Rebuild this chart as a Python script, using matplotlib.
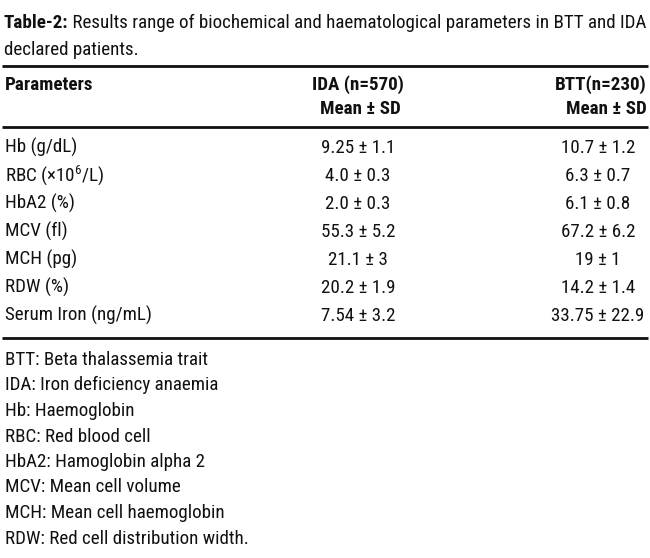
import matplotlib
matplotlib.use("Agg")
import matplotlib.pyplot as plt
from matplotlib import font_manager

# table content
title_bold = "Table-2:"
title_line1 = " Results range of biochemical and haematological parameters in BTT and IDA"
title_line2 = "declared patients."
col_heads = ["Parameters", "IDA (n=570)", "BTT(n=230)"]
sub_head = "Mean \u00b1 SD"
parameters = ["Hb (g/dL)", "RBC (\u00d7$10^{6}$/L)", "HbA2 (%)", "MCV (fl)",
              "MCH (pg)", "RDW (%)", "Serum Iron (ng/mL)"]
ida_mean = ["9.25", "4.0", "2.0", "55.3", "21.1", "20.2", "7.54"]
ida_sd = ["1.1", "0.3", "0.3", "5.2", "3", "1.9", "3.2"]
btt_mean = ["10.7", "6.3", "6.1", "67.2", "19", "14.2", "33.75"]
btt_sd = ["1.2", "0.7", "0.8", "6.2", "1", "1.4", "22.9"]
footnotes = ["BTT: Beta thalassemia trait", "IDA: Iron deficiency anaemia",
             "Hb: Haemoglobin", "RBC: Red blood cell", "HbA2: Hamoglobin alpha 2",
             "MCV: Mean cell volume", "MCH: Mean cell haemoglobin",
             "RDW: Red cell distribution width."]

# pick a condensed sans if there is one
installed = {f.name for f in font_manager.fontManager.ttflist}
font = "DejaVu Sans"
for name in ["Liberation Sans Narrow", "Roboto Condensed", "Open Sans Condensed", "Liberation Sans"]:
    if name in installed:
        font = name
        break
plt.rcParams["font.family"] = [font, "DejaVu Sans"]
plt.rcParams["mathtext.fontset"] = "custom"
plt.rcParams["mathtext.rm"] = font
plt.rcParams["mathtext.it"] = font
plt.rcParams["mathtext.bf"] = font + ":bold"

fs = 13.7
ink = "#111111"

fig = plt.figure(figsize=(6.5, 5.58), dpi=100)
ax = fig.add_axes([0, 0, 1, 1])
ax.set_xlim(0, 650)
ax.set_ylim(558, 0)
ax.axis("off")

# title, bold label followed by plain text
t = ax.text(4, 28, title_bold, fontsize=fs, fontweight="bold", va="baseline", color=ink)
fig.canvas.draw()
w = t.get_window_extent(fig.canvas.get_renderer()).width
ax.text(4 + w, 28, title_line1, fontsize=fs, va="baseline", color=ink)
ax.text(4, 55, title_line2, fontsize=fs, va="baseline", color=ink)

# rules
for y in [66, 127, 338]:
    ax.plot([2, 648], [y, y], color=ink, lw=2.0, solid_capstyle="butt")

ida_x = 358
btt_x = 598
ax.text(5, 90, col_heads[0], fontsize=fs, fontweight="bold", va="baseline", color=ink)
ax.text(ida_x, 90, col_heads[1], fontsize=fs, fontweight="bold", va="baseline", ha="center", color=ink)
ax.text(647, 90, col_heads[2], fontsize=fs, fontweight="bold", va="baseline", ha="right", color=ink)
ax.text(ida_x + 2, 114, sub_head, fontsize=fs, fontweight="bold", va="baseline", ha="center", color=ink)
ax.text(647, 114, sub_head, fontsize=fs, fontweight="bold", va="baseline", ha="right", color=ink)

row_step = 28.0
for i, p in enumerate(parameters):
    y = 153 + i * row_step
    ax.text(5, y, p, fontsize=fs, va="baseline", color=ink)
    ax.text(ida_x, y, f"{ida_mean[i]} \u00b1 {ida_sd[i]}", fontsize=fs, va="baseline", ha="center", color=ink)
    ax.text(btt_x, y, f"{btt_mean[i]} \u00b1 {btt_sd[i]}", fontsize=fs, va="baseline", ha="center", color=ink)

note_step = 25.5
for i, note in enumerate(footnotes):
    ax.text(5, 365 + i * note_step, note, fontsize=fs, va="baseline", color=ink)

fig.savefig("out.png", dpi=100, facecolor="white")
